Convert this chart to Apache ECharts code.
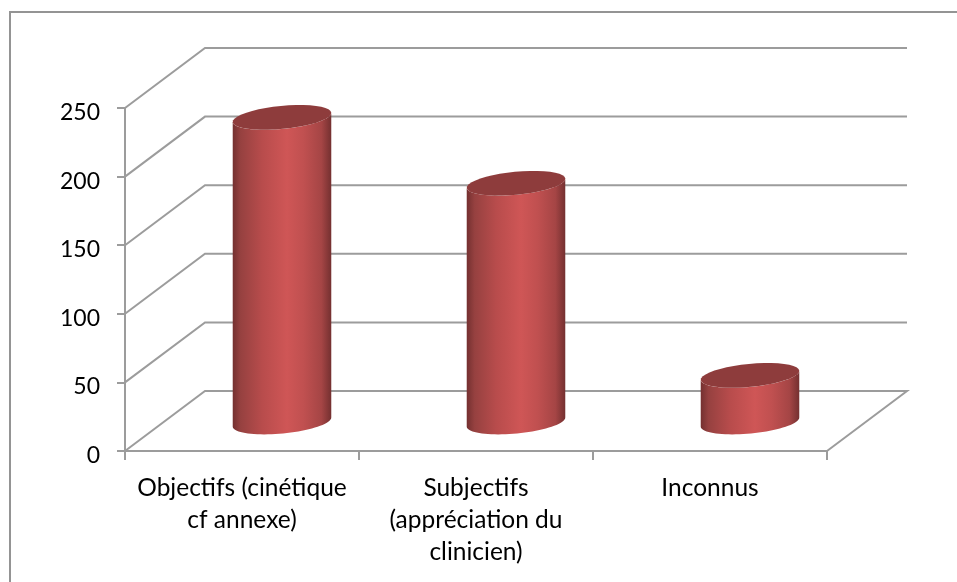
<!DOCTYPE html>
<html>
<head>
<meta charset="utf-8">
<style>
  html, body { margin: 0; padding: 0; background: #fff; }
  #chart { width: 957px; height: 582px; }
</style>
</head>
<body>
<div id="chart"></div>
<script src="https://cdn.jsdelivr.net/npm/echarts@6/dist/echarts.min.js"></script>
<script>
const categories = ["Objectifs (cinétique\ncf annexe)", "Subjectifs\n(appréciation du\nclinicien)", "Inconnus"];
const values = [222, 174, 34];
const yTicks = [0, 50, 100, 150, 200, 250];

const lineColor = "#9c9c9c";
const depthX = 80;
const depthY = 60;
// the cylinders stand on the floor, a bit behind its middle
const barDepthX = 40;
const barDepthY = 29;
const barRx = 49.5;
const barRy = 11.5;
const tilt = -5.5 * Math.PI / 180;

// points of a tilted ellipse between two angles
function arc(cx, cy, from, to) {
  const pts = [];
  const steps = 40;
  for (let i = 0; i <= steps; i++) {
    const t = from + (to - from) * i / steps;
    const x = barRx * Math.cos(t);
    const y = barRy * Math.sin(t);
    pts.push([
      cx + x * Math.cos(tilt) - y * Math.sin(tilt),
      cy + x * Math.sin(tilt) + y * Math.cos(tilt)
    ]);
  }
  return pts;
}

function renderWall(params, api) {
  const rect = params.coordSys;
  const y = api.coord([0, api.value(0)])[1];
  const left = rect.x;
  const right = rect.x + rect.width;
  const points = [[left, y], [left + depthX, y - depthY], [right + depthX, y - depthY]];
  if (api.value(0) === 0) {
    points.push([right, y]);
  }
  return {
    type: "polyline",
    shape: { points: points },
    style: { stroke: lineColor, lineWidth: 2, fill: null }
  };
}

function renderCylinder(params, api) {
  const base = api.coord([api.value(0), 0]);
  const top = api.coord([api.value(0), api.value(1)]);
  const cx = base[0] + barDepthX;
  const baseY = base[1] - barDepthY;
  const topY = top[1] - barDepthY;
  const body = arc(cx, baseY, 0, Math.PI).concat(arc(cx, topY, Math.PI, 0));
  return {
    type: "group",
    children: [
      {
        type: "polygon",
        shape: { points: body },
        style: {
          fill: new echarts.graphic.LinearGradient(0, 0, 1, 0, [
            { offset: 0, color: "#743030" },
            { offset: 0.08, color: "#964140" },
            { offset: 0.3, color: "#b84c4c" },
            { offset: 0.55, color: "#cf5656" },
            { offset: 0.72, color: "#c05050" },
            { offset: 0.9, color: "#a54545" },
            { offset: 1, color: "#743030" }
          ])
        }
      },
      {
        type: "polygon",
        shape: { points: arc(cx, topY, 0, Math.PI * 2) },
        style: { fill: "#8e3c3c" }
      }
    ]
  };
}

const chart = echarts.init(document.getElementById("chart"));
chart.setOption({
  animation: false,
  backgroundColor: "#fff",
  textStyle: { fontFamily: "Lato" },
  // the frame only shows on the top and left, it runs off the picture
  graphic: [
    {
      type: "polyline",
      shape: { points: [[957, 12], [10, 12], [10, 582]] },
      style: { stroke: "#949494", lineWidth: 2, fill: null },
      z: -1
    }
  ],
  grid: { left: 125, top: 108, width: 702, height: 343 },
  xAxis: {
    type: "category",
    data: categories,
    axisLine: { lineStyle: { color: lineColor, width: 2 } },
    axisTick: { show: true, length: 9, lineStyle: { color: lineColor, width: 2 } },
    axisLabel: { color: "#000", fontSize: 24.5, lineHeight: 32, margin: 21, interval: 0 }
  },
  yAxis: {
    type: "value",
    min: 0,
    max: 250,
    interval: 50,
    axisLine: { show: true, lineStyle: { color: lineColor, width: 2 } },
    axisTick: { show: true, length: 8, lineStyle: { color: lineColor, width: 2 } },
    // labels sit a little under their tick
    axisLabel: { color: "#000", fontSize: 23, margin: 25, verticalAlign: "top", lineHeight: 9 },
    splitLine: { show: false }
  },
  series: [
    {
      type: "custom",
      coordinateSystem: "cartesian2d",
      clip: false,
      silent: true,
      renderItem: renderWall,
      encode: { y: 0 },
      data: yTicks.map((v) => [v]),
      z: 1
    },
    {
      type: "custom",
      coordinateSystem: "cartesian2d",
      clip: false,
      silent: true,
      renderItem: renderCylinder,
      encode: { x: 0, y: 1 },
      data: values.map((v, i) => [i, v]),
      z: 2
    }
  ]
});
</script>
</body>
</html>
